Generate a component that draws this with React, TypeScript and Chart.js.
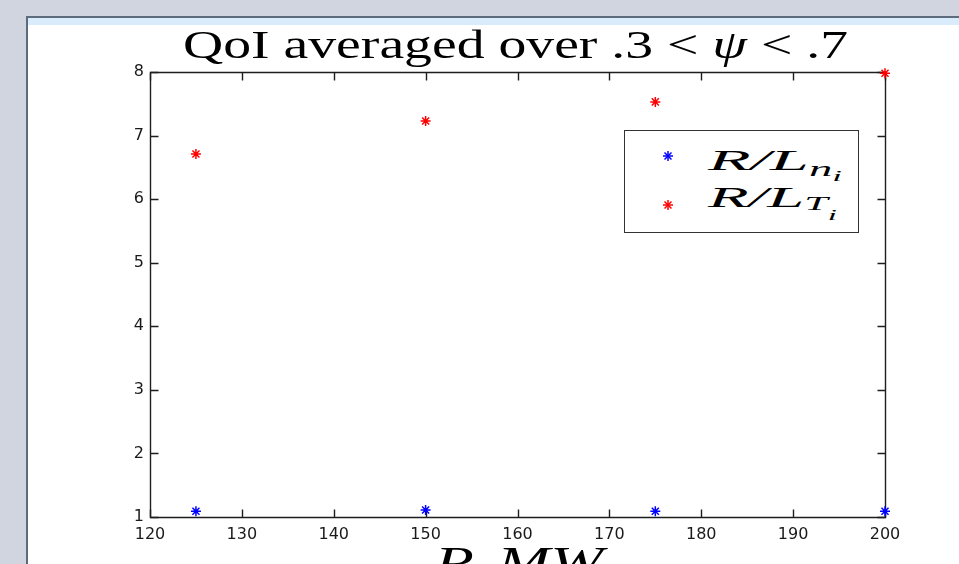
import React, { useEffect, useLayoutEffect, useRef } from "react";
import { Chart, registerables } from "chart.js";

Chart.register(...registerables);

// ---- data ----
const powerValues = [125, 150, 175, 200];
const rlnValues = [1.09, 1.11, 1.09, 1.09];
const rltValues = [6.71, 7.23, 7.53, 7.98];
const xTickValues = [120, 130, 140, 150, 160, 170, 180, 190, 200];
const yTickValues = [1, 2, 3, 4, 5, 6, 7, 8];
const seriesColors = ["#0000ff", "#ff0000"];

const AXIS_COLOR = "#1e1e1e";
const TICK_LEN = 8;

const boxPlugin = {
  id: "matlabBox",
  beforeDatasetsDraw(chart: any) {
    const { ctx, chartArea } = chart;
    const xs = chart.scales.x;
    const ys = chart.scales.y;
    ctx.save();
    ctx.strokeStyle = AXIS_COLOR;
    ctx.lineWidth = 1.4;
    const l = Math.round(chartArea.left) + 0.5;
    const r = Math.round(chartArea.right) + 0.5;
    const t = Math.round(chartArea.top) + 0.5;
    const b = Math.round(chartArea.bottom) + 0.5;
    ctx.beginPath();
    ctx.rect(l, t, r - l, b - t);
    ctx.stroke();
    ctx.beginPath();
    xTickValues.forEach((v) => {
      const px = Math.round(xs.getPixelForValue(v)) + 0.5;
      ctx.moveTo(px, b);
      ctx.lineTo(px, b - TICK_LEN);
      ctx.moveTo(px, t);
      ctx.lineTo(px, t + TICK_LEN);
    });
    yTickValues.forEach((v) => {
      const py = Math.round(ys.getPixelForValue(v)) + 0.5;
      ctx.moveTo(l, py);
      ctx.lineTo(l + TICK_LEN, py);
      ctx.moveTo(r, py);
      ctx.lineTo(r - TICK_LEN, py);
    });
    ctx.stroke();
    ctx.restore();
  },
};

function FitText(props: { left: number; top: number; width: number; style?: any; children: any }) {
  const ref = useRef<HTMLDivElement>(null);
  useLayoutEffect(() => {
    const el = ref.current;
    if (!el) return;
    el.style.transform = "none";
    const w = el.getBoundingClientRect().width;
    if (w > 0) el.style.transform = `scaleX(${props.width / w})`;
  });
  return (
    <div
      ref={ref}
      style={{
        position: "absolute",
        left: props.left,
        top: props.top,
        whiteSpace: "nowrap",
        transformOrigin: "0 0",
        lineHeight: 1,
        color: "#000",
        ...props.style,
      }}
    >
      {props.children}
    </div>
  );
}

function Star({ color }: { color: string }) {
  return (
    <svg width="14" height="14" viewBox="-7 -7 14 14" style={{ display: "block" }}>
      <g stroke={color} strokeWidth="1.5">
        <line x1="-5" y1="0" x2="5" y2="0" />
        <line x1="0" y1="-5" x2="0" y2="5" />
        <line x1="-3.5" y1="-3.5" x2="3.5" y2="3.5" />
        <line x1="-3.5" y1="3.5" x2="3.5" y2="-3.5" />
      </g>
    </svg>
  );
}

export default function App() {
  const canvasRef = useRef<HTMLCanvasElement>(null);

  useEffect(() => {
    const canvas = canvasRef.current;
    if (!canvas) return;
    const tickFont = { family: "'DejaVu Sans', sans-serif", size: 16 };
    const chart = new Chart(canvas, {
      type: "scatter",
      data: {
        datasets: [
          {
            label: "R/L_ni",
            data: powerValues.map((x, i) => ({ x, y: rlnValues[i] })),
            pointStyle: "star",
            pointRadius: 5,
            borderColor: seriesColors[0],
            backgroundColor: seriesColors[0],
            borderWidth: 1.5,
            clip: false as any,
          },
          {
            label: "R/L_Ti",
            data: powerValues.map((x, i) => ({ x, y: rltValues[i] })),
            pointStyle: "star",
            pointRadius: 5,
            borderColor: seriesColors[1],
            backgroundColor: seriesColors[1],
            borderWidth: 1.5,
            clip: false as any,
          },
        ],
      },
      options: {
        animation: false,
        responsive: false,
        maintainAspectRatio: false,
        events: [],
        layout: { padding: { left: 0, top: 72, right: 74, bottom: 0 } },
        plugins: {
          legend: { display: false },
          title: { display: false },
          tooltip: { enabled: false },
        },
        scales: {
          x: {
            type: "linear",
            min: 120,
            max: 200,
            afterFit: (s: any) => {
              s.height = 47;
            },
            grid: { display: false, drawTicks: false },
            border: { display: false },
            ticks: {
              stepSize: 10,
              autoSkip: false,
              maxRotation: 0,
              padding: 8,
              color: "#1a1a1a",
              font: tickFont,
            },
          },
          y: {
            type: "linear",
            min: 1,
            max: 8,
            afterFit: (s: any) => {
              s.width = 150;
            },
            grid: { display: false, drawTicks: false },
            border: { display: false },
            ticks: {
              stepSize: 1,
              autoSkip: false,
              padding: 6,
              color: "#1a1a1a",
              font: tickFont,
            },
          },
        },
      },
      plugins: [boxPlugin],
    });
    return () => chart.destroy();
  }, []);

  const serif = "'Liberation Serif', 'Times New Roman', serif";

  return (
    <div
      style={{
        position: "fixed",
        left: 0,
        top: 0,
        width: 959,
        height: 564,
        overflow: "hidden",
        background: "#d1d5df",
      }}
    >
      <div
        style={{
          position: "absolute",
          left: 26,
          top: 16,
          width: 959,
          height: 564,
          borderLeft: "2px solid #5d6b7b",
          borderTop: "2px solid #5d6b7b",
          background: "#ffffff",
        }}
      >
        <div style={{ position: "absolute", left: 0, top: 0, right: 0, height: 7, background: "#d8ecfb" }} />
      </div>

      <canvas
        ref={canvasRef}
        width={959}
        height={564}
        style={{ position: "absolute", left: 0, top: 0, width: 959, height: 564 }}
      />

      {/* title */}
      <FitText left={183} top={24} width={665} style={{ fontFamily: serif, fontSize: 41 }}>
        QoI averaged over .3 &lt; <i>ψ</i> &lt; .7
      </FitText>

      {/* legend */}
      <div
        style={{
          position: "absolute",
          left: 624,
          top: 130,
          width: 233,
          height: 101,
          border: "1.5px solid #333",
          background: "#fff",
        }}
      />
      <div style={{ position: "absolute", left: 661, top: 149 }}>
        <Star color={seriesColors[0]} />
      </div>
      <div style={{ position: "absolute", left: 661, top: 198 }}>
        <Star color={seriesColors[1]} />
      </div>
      <FitText left={708} top={145} width={134} style={{ fontFamily: serif, fontSize: 30, fontStyle: "italic" }}>
        R/L
        <span style={{ fontSize: 20, position: "relative", top: 6 }}>n</span>
        <span style={{ fontSize: 15, position: "relative", top: 11 }}>i</span>
      </FitText>
      <FitText left={708} top={182} width={129} style={{ fontFamily: serif, fontSize: 30, fontStyle: "italic" }}>
        R/L
        <span style={{ fontSize: 19, position: "relative", top: 3 }}>T</span>
        <span style={{ fontSize: 15, position: "relative", top: 13 }}>i</span>
      </FitText>

      {/* x-axis label */}
      <FitText left={435} top={541} width={168} style={{ fontFamily: serif, fontSize: 42, fontStyle: "italic" }}>
        P, MW
      </FitText>
    </div>
  );
}
